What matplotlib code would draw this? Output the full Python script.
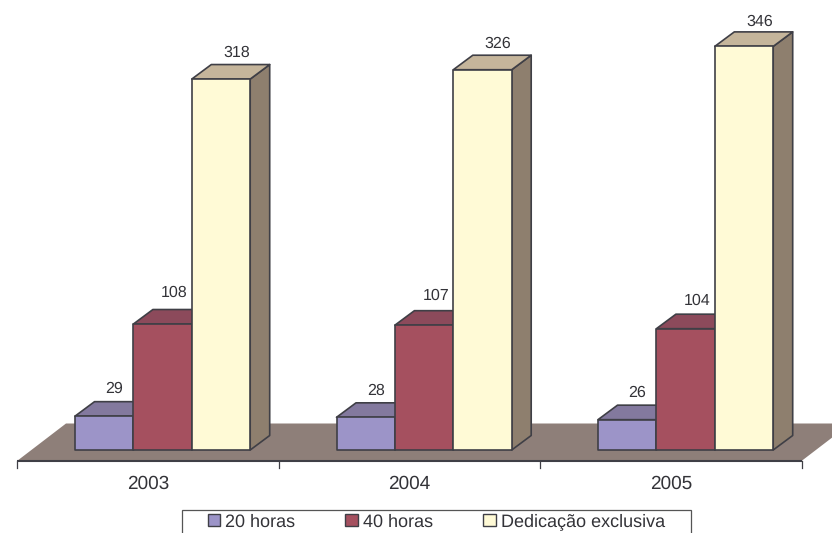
import matplotlib
matplotlib.use("Agg")
import matplotlib.pyplot as plt
from matplotlib.patches import Polygon, Patch, Rectangle

years = ["2003", "2004", "2005"]
series_names = ["20 horas", "40 horas", "Dedicação exclusiva"]
horas20 = [29, 28, 26]
horas40 = [108, 107, 104]
exclusiva = [318, 326, 346]
series_values = [horas20, horas40, exclusiva]

front_colors = ["#9C94C8", "#A5505F", "#FFFAD6"]
top_colors = ["#83799E", "#8C4A5B", "#C5B59B"]
side_color = "#8E7F6E"
floor_color = "#8E7F79"
edge = "#3F3F46"
text_color = "#333338"

plt.rcParams["font.family"] = ["Liberation Sans", "DejaVu Sans"]
plt.rcParams["text.hinting"] = "no_hinting"
plt.rcParams["text.hinting_factor"] = 1

W, H = 832, 533
fig = plt.figure(figsize=(W / 100, H / 100), dpi=100)
ax = fig.add_axes([0, 0, 1, 1])

# scales: one category = 261.5 px, one value unit = 1.1665 px
px_x = 261.5
px_y = 1.1665
x0_px, y0_px = 17.0, 450.0
ax.set_xlim(-x0_px / px_x, (W - x0_px) / px_x)
ax.set_ylim(-(H - y0_px) / px_y, y0_px / px_y)
ax.axis("off")

dx = 19.5 / px_x      # depth of a bar, x
dy = 14.5 / px_y      # depth of a bar, y
bar_w = 58.4 / px_x
group_off = 58.0 / px_x
lw = 1.2

# floor
floor_front = -11.0 / px_y
floor_back = 26.5 / px_y
floor_dx = 49.0 / px_x
ax.add_patch(Polygon([(0, floor_front), (3, floor_front),
                      (3 + floor_dx, floor_back), (floor_dx, floor_back)],
                     closed=True, fc=floor_color, ec="none", zorder=1))
ax.plot([0, 3], [floor_front, floor_front], color=edge, lw=1.5, zorder=2,
        solid_capstyle="butt")

# category ticks and labels
tick_len = 7.0 / px_y
for i in range(4):
    ax.plot([i, i], [floor_front, floor_front - tick_len], color=edge, lw=0.9, zorder=2)
for i, label in enumerate(years):
    ax.text(i + 0.5, -33.5 / px_y, label, ha="center", va="center",
            fontsize=13.4, color=text_color)

# bars
label_dx = [10, 12, 15.5]
label_dy = [[12.5, 12.5, 12.5], [17.0, 14.5, 13.5], [12.0, 12.0, 10.0]]
z = 3
for g in range(len(years)):
    for s, values in enumerate(series_values):
        v = values[g]
        left = g + group_off + s * bar_w
        right = left + bar_w
        ax.add_patch(Polygon([(right, 0), (right + dx, dy), (right + dx, v + dy), (right, v)],
                             closed=True, fc=side_color, ec=edge, lw=lw, zorder=z,
                             joinstyle="round"))
        ax.add_patch(Polygon([(left, v), (right, v), (right + dx, v + dy), (left + dx, v + dy)],
                             closed=True, fc=top_colors[s], ec=edge, lw=lw, zorder=z,
                             joinstyle="round"))
        ax.add_patch(Polygon([(left, 0), (right, 0), (right, v), (left, v)],
                             closed=True, fc=front_colors[s], ec=edge, lw=lw, zorder=z + 0.5,
                             joinstyle="round"))
        ax.annotate(str(v), xy=((left + right) / 2, v + dy),
                    xytext=(label_dx[s] * 0.72, label_dy[s][g] * 0.72), textcoords="offset points",
                    ha="center", va="center", fontsize=11.3, color=text_color, zorder=20)
        z += 1

# legend frame: its lower edge falls off the picture as in the reference
ax.add_patch(Rectangle((182 / W, 1 - 545 / H), (690.5 - 182) / W, (545 - 509.5) / H,
                       transform=ax.transAxes, fc="white", ec="#555555", lw=0.9,
                       zorder=29, clip_on=True))
handles = [Patch(fc=c, ec=edge, lw=1.0) for c in front_colors]
leg = ax.legend(handles, series_names, ncols=3, loc="center left",
                bbox_to_anchor=(207.5 / W, 1 - 522 / H), bbox_transform=ax.transAxes,
                fontsize=13.3, frameon=False, borderpad=0, borderaxespad=0,
                handlelength=0.67, handleheight=0.67, handletextpad=0.28,
                columnspacing=2.72, labelcolor=text_color)
leg.set_zorder(30)

fig.savefig("out.png", dpi=100)
